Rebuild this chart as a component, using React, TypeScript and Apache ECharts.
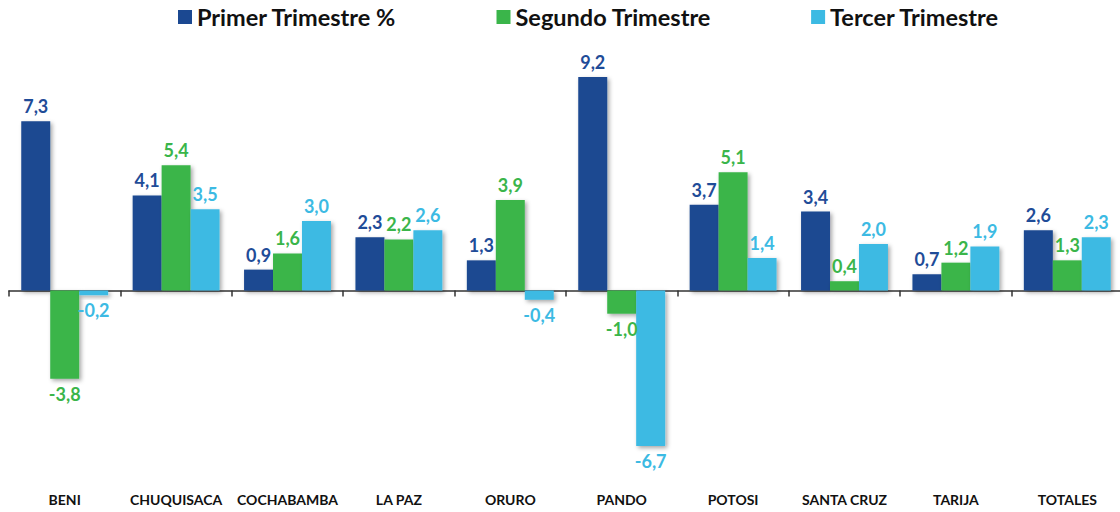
import React, { useEffect, useRef } from "react";
import * as echarts from "echarts";

const categories = ["BENI", "CHUQUISACA", "COCHABAMBA", "LA PAZ", "ORURO", "PANDO", "POTOSI", "SANTA CRUZ", "TARIJA", "TOTALES"];
const seriesNames = ["Primer Trimestre %", "Segundo Trimestre", "Tercer Trimestre"];
const primer = [7.3, 4.1, 0.9, 2.3, 1.3, 9.2, 3.7, 3.4, 0.7, 2.6];
const segundo = [-3.8, 5.4, 1.6, 2.2, 3.9, -1.0, 5.1, 0.4, 1.2, 1.3];
const tercer = [-0.2, 3.5, 3.0, 2.6, -0.4, -6.7, 1.4, 2.0, 1.9, 2.3];
const colors = ["#1B4891", "#3AB54A", "#3CBAE3"];
const labelColors = ["#1F4C98", "#3AB54A", "#3CBAE3"];

const FONT = "Lato, 'Open Sans', sans-serif";

export default function App() {
  const ref = useRef<HTMLDivElement>(null);
  useEffect(() => {
    if (!ref.current) return;
    const chart = echarts.init(ref.current, undefined, { renderer: "svg" });
    const all = [primer, segundo, tercer];
    const series = all.map((vals, i) => ({
      name: seriesNames[i],
      type: "bar",
      xAxisIndex: 0,
      barGap: "0%",
      barCategoryGap: "22%",
      itemStyle: {
        color: colors[i],
        shadowColor: "rgba(0,0,0,0.35)",
        shadowBlur: 4,
        shadowOffsetX: 2,
        shadowOffsetY: 2,
      },
      label: {
        show: true,
        color: labelColors[i],
        fontFamily: FONT,
        fontWeight: "bold",
        fontSize: 18,
        distance: 6,
        formatter: (p: any) => Number(p.value).toFixed(1).replace(".", ","),
      },
      data: vals.map((v) => ({
        value: v,
        label: { position: v < 0 ? "bottom" : "top" },
      })),
    }));
    chart.setOption({
      animation: false,
      textStyle: { fontFamily: FONT },
      legend: {
        data: seriesNames,
        left: 173,
        top: 0,
        icon: "rect",
        itemWidth: 14,
        itemHeight: 14,
        itemGap: 100,
        textStyle: { fontSize: 23.5, fontWeight: "bold", color: "#111", fontFamily: FONT },
      },
      grid: {
        left: 9,
        top: 58.5,
        width: 1114,
        height: 417.6,
        containLabel: false,
        outerBoundsMode: "none",
      },
      xAxis: [
        {
          type: "category",
          data: categories,
          position: "bottom",
          axisLine: { onZero: true, lineStyle: { color: "#333", width: 1.5 } },
          axisTick: { show: true, length: 6, lineStyle: { color: "#333", width: 1.5 } },
          axisLabel: { show: false },
        },
        {
          type: "category",
          data: categories,
          position: "bottom",
          gridIndex: 0,
          axisLine: { show: false, onZero: false },
          axisTick: { show: false },
          axisLabel: {
            margin: 16,
            interval: 0,
            color: "#111",
            fontFamily: FONT,
            fontWeight: "bold",
            fontSize: 14,
          },
        },
      ],
      yAxis: {
        type: "value",
        min: -8,
        max: 10,
        show: false,
        splitLine: { show: false },
      },
      series,
    });
    return () => chart.dispose();
  }, []);
  return <div ref={ref} style={{ position: "absolute", left: 0, top: 0, width: 1120, height: 512 }} />;
}
